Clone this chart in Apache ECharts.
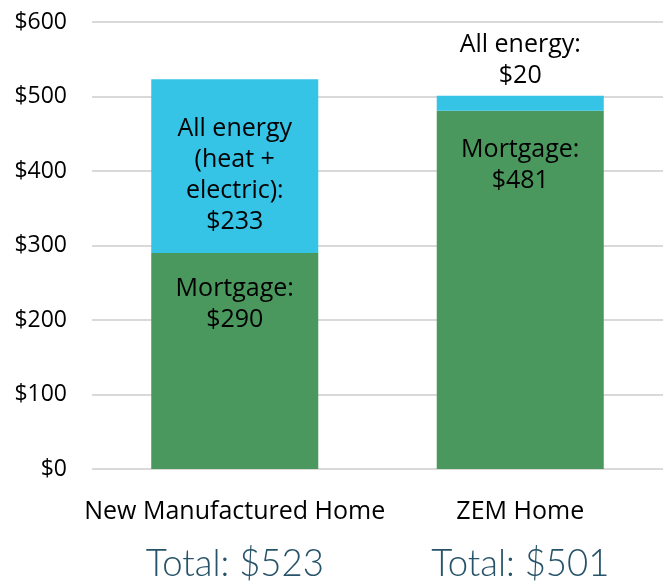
<!DOCTYPE html>
<html><head><meta charset="utf-8">
<script src="https://cdn.jsdelivr.net/npm/echarts@6/dist/echarts.min.js"></script>
<style>html,body{margin:0;padding:0;background:#fff}#c{width:670px;height:583px}</style>
</head><body><div id="c"></div>
<script>
const categories = ['New Manufactured Home', 'ZEM Home'];
const mortgage = [290, 481];
const energy = [233, 20];
const energyLabels = ['All energy\n(heat +\nelectric):', 'All energy:'];
const yTicks = [0, 100, 200, 300, 400, 500, 600];

const totals = categories.map((c, i) => mortgage[i] + energy[i]);
const chart = echarts.init(document.getElementById('c'));
const FONT = 'Open Sans';
chart.setOption({
  animation: false,
  textStyle: { fontFamily: FONT },
  grid: { left: 92, right: 7, top: 22, bottom: 111 },
  xAxis: {
    type: 'category', data: categories,
    axisLine: { show: false }, axisTick: { show: false },
    axisLabel: {
      margin: 26, interval: 0,
      formatter: (v, i) => '{a|' + v + '}\n{b|Total: $' + totals[i] + '}',
      rich: {
        a: { fontFamily: FONT, fontSize: 25, color: '#000', lineHeight: 34 },
        b: { fontFamily: 'Lato', fontWeight: 300, fontSize: 36.5, color: '#27536a', lineHeight: 54, verticalAlign: 'bottom' }
      }
    }
  },
  yAxis: {
    type: 'value', min: yTicks[0], max: yTicks[yTicks.length - 1], interval: 100,
    axisLabel: { formatter: v => '$' + v, fontSize: 23, color: '#000', margin: 25 },
    splitLine: { lineStyle: { color: '#d9d9d9', width: 2 } },
    axisLine: { show: false }, axisTick: { show: false }
  },
  series: [
    {
      type: 'bar', stack: 'a', barWidth: '58.5%',
      itemStyle: { color: '#4a985d' },
      data: mortgage.map((v, i) => ({ value: v, label: { distance: i === 0 ? 20 : 24 } })),
      label: {
        show: true, position: 'insideTop',
        formatter: p => 'Mortgage:\n$' + p.value,
        fontSize: 25, color: '#000', lineHeight: 31
      }
    },
    {
      type: 'bar', stack: 'a',
      itemStyle: { color: '#35c3e6' },
      data: energy.map((v, i) => ({
        value: v,
        label: i === 0 ? { position: 'inside', offset: [0, 9] } : { position: 'top', distance: 4 }
      })),
      label: {
        show: true,
        formatter: p => energyLabels[p.dataIndex] + '\n$' + p.value,
        fontSize: 25, color: '#000', lineHeight: 31
      }
    }
  ]
});
</script></body></html>
